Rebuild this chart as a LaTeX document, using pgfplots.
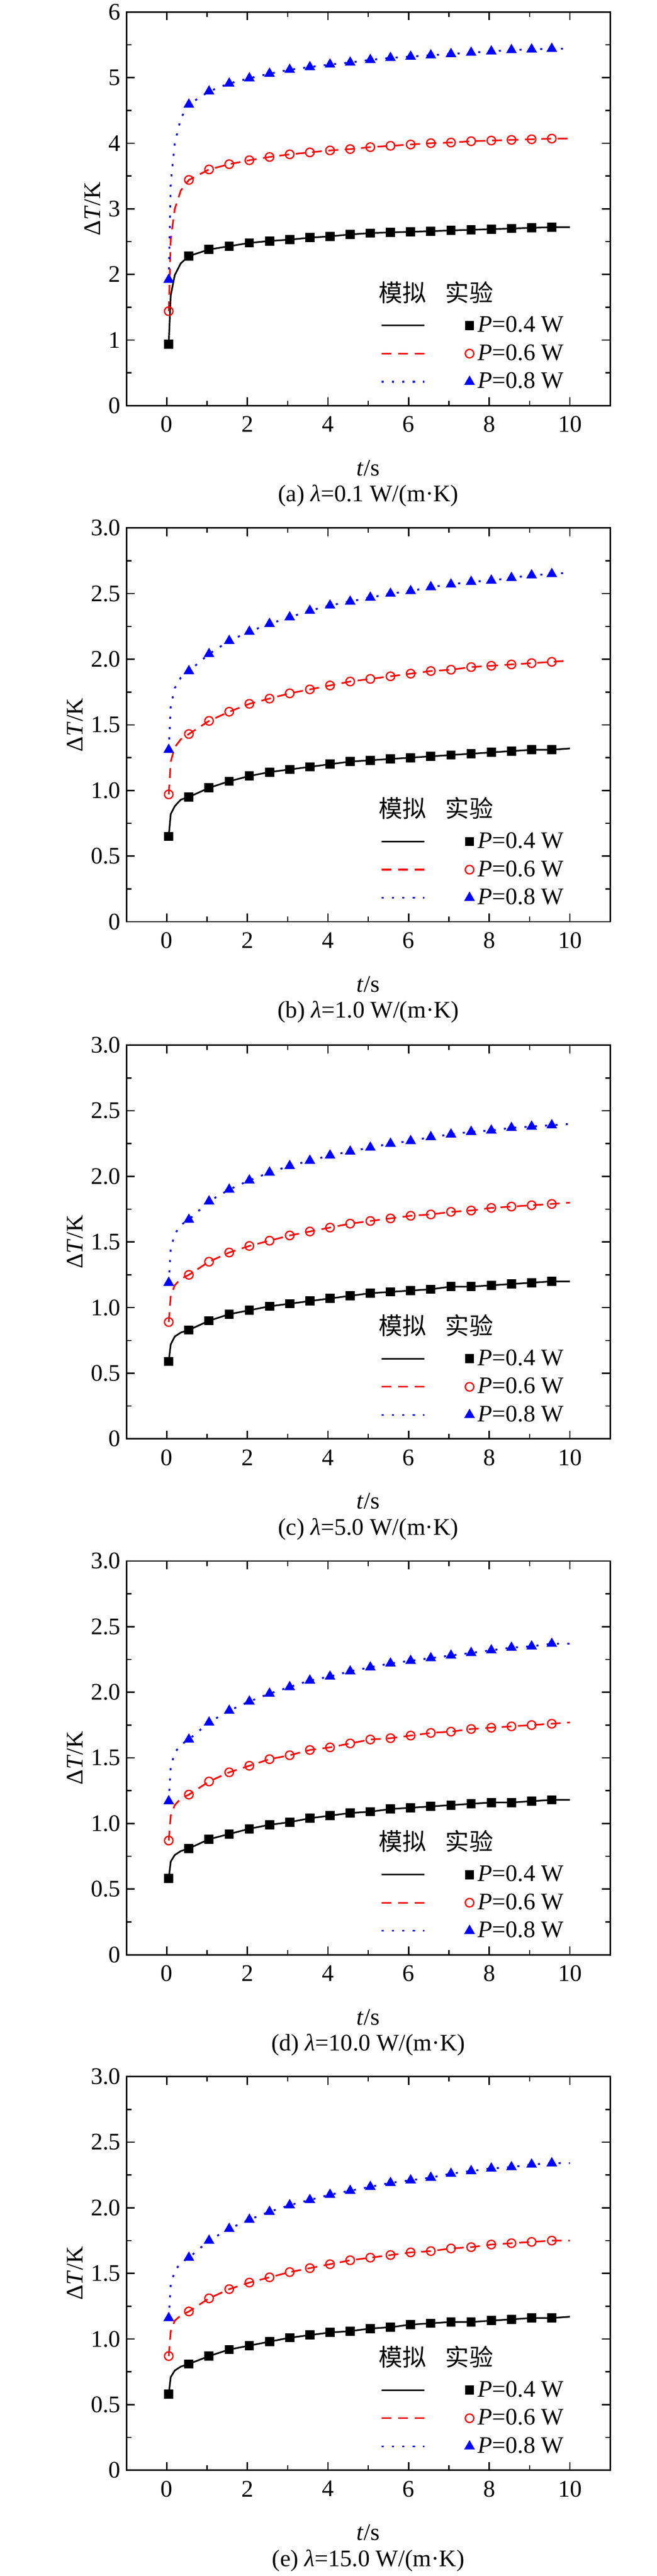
\documentclass[border=0pt]{standalone}
\usepackage{pgfplots}
\pgfplotsset{compat=1.18}
\usepackage{pgfplotstable}
\usepackage{fontspec}
\setmainfont{Liberation Serif}
\newfontfamily\cjk{Noto Sans CJK SC}
\newcommand\fs{\fontsize{14.5}{17}\selectfont}
% columns: x  b (0.4W)  r (0.6W)  u (0.8W)
\pgfplotstableread{
x b r u
0.05 0.94 1.44 1.92
0.1 1.68 2.54 3.39
0.2 1.99 3.00 4.00
0.35 2.17 3.28 4.38
0.55 2.28 3.44 4.59
1.05 2.38 3.60 4.79
1.55 2.43 3.68 4.91
2.05 2.48 3.74 4.99
2.55 2.51 3.79 5.06
3.05 2.53 3.83 5.12
3.55 2.56 3.86 5.16
4.05 2.58 3.89 5.20
4.55 2.61 3.91 5.23
5.05 2.63 3.94 5.27
5.55 2.64 3.96 5.30
6.05 2.65 3.98 5.32
6.55 2.66 4.00 5.34
7.05 2.67 4.01 5.36
7.55 2.68 4.03 5.38
8.05 2.69 4.04 5.40
8.55 2.70 4.05 5.42
9.05 2.71 4.06 5.43
9.55 2.72 4.07 5.44
10 2.72 4.07 5.44
}\tA
\pgfplotstableread{
x b r u
0.05 0.65 0.97 1.31
0.1 0.82 1.22 1.64
0.2 0.88 1.33 1.78
0.35 0.93 1.39 1.86
0.55 0.95 1.43 1.91
1.05 1.02 1.53 2.04
1.55 1.07 1.60 2.14
2.05 1.11 1.66 2.21
2.55 1.14 1.70 2.27
3.05 1.16 1.74 2.32
3.55 1.18 1.77 2.37
4.05 1.20 1.80 2.41
4.55 1.22 1.83 2.44
5.05 1.23 1.85 2.47
5.55 1.24 1.87 2.50
6.05 1.25 1.89 2.52
6.55 1.26 1.91 2.55
7.05 1.27 1.92 2.57
7.55 1.28 1.94 2.59
8.05 1.29 1.95 2.60
8.55 1.30 1.96 2.62
9.05 1.31 1.97 2.64
9.55 1.31 1.98 2.65
10 1.32 1.99 2.66
}\tB
\pgfplotstableread{
x b r u
0.05 0.59 0.89 1.19
0.1 0.72 1.09 1.45
0.2 0.78 1.17 1.56
0.35 0.81 1.22 1.63
0.55 0.83 1.25 1.67
1.05 0.90 1.35 1.81
1.55 0.95 1.42 1.90
2.05 0.98 1.47 1.97
2.55 1.01 1.51 2.03
3.05 1.03 1.55 2.08
3.55 1.05 1.58 2.12
4.05 1.07 1.61 2.16
4.55 1.09 1.64 2.19
5.05 1.11 1.66 2.22
5.55 1.12 1.68 2.25
6.05 1.13 1.70 2.27
6.55 1.14 1.71 2.30
7.05 1.16 1.73 2.32
7.55 1.16 1.74 2.34
8.05 1.17 1.76 2.35
8.55 1.18 1.77 2.37
9.05 1.19 1.78 2.38
9.55 1.20 1.79 2.39
10 1.20 1.80 2.40
}\tC
\pgfplotstableread{
x b r u
0.05 0.58 0.87 1.17
0.1 0.71 1.06 1.43
0.2 0.76 1.14 1.54
0.35 0.79 1.19 1.60
0.55 0.81 1.22 1.64
1.05 0.88 1.32 1.77
1.55 0.92 1.39 1.86
2.05 0.96 1.44 1.93
2.55 0.99 1.49 1.99
3.05 1.01 1.52 2.04
3.55 1.04 1.56 2.09
4.05 1.06 1.58 2.12
4.55 1.08 1.61 2.16
5.05 1.09 1.64 2.19
5.55 1.11 1.65 2.22
6.05 1.12 1.67 2.24
6.55 1.13 1.69 2.26
7.05 1.14 1.70 2.28
7.55 1.15 1.72 2.30
8.05 1.16 1.73 2.32
8.55 1.16 1.74 2.34
9.05 1.17 1.75 2.35
9.55 1.18 1.76 2.37
10 1.18 1.77 2.37
}\tD
\pgfplotstableread{
x b r u
0.05 0.58 0.87 1.16
0.1 0.71 1.06 1.41
0.2 0.76 1.14 1.52
0.35 0.79 1.18 1.58
0.55 0.81 1.21 1.62
1.05 0.87 1.31 1.75
1.55 0.92 1.38 1.84
2.05 0.95 1.43 1.91
2.55 0.98 1.47 1.97
3.05 1.01 1.51 2.02
3.55 1.03 1.54 2.06
4.05 1.05 1.57 2.10
4.55 1.06 1.60 2.13
5.05 1.08 1.62 2.16
5.55 1.09 1.64 2.19
6.05 1.11 1.66 2.21
6.55 1.12 1.67 2.23
7.05 1.13 1.69 2.26
7.55 1.13 1.70 2.28
8.05 1.14 1.72 2.30
8.55 1.15 1.73 2.31
9.05 1.16 1.74 2.33
9.55 1.16 1.75 2.34
10 1.17 1.75 2.34
}\tE
\pgfplotsset{
  pan/.style={
    width=294.8pt, height=240.1pt, scale only axis,
    anchor=north west, clip=false,
    xmin=-1, xmax=11, xtick={0,2,...,10}, minor x tick num=1,
    minor y tick num=1,
    tick align=inside, major tick length=5pt, minor tick length=3pt,
    axis line style={line width=0.9pt}, every tick/.style={black, line width=0.8pt},
    /pgf/number format/assume math mode=true,
    tick label style={font=\fs},
    xticklabel style={yshift=-3pt},
    label style={font=\fs},
    xlabel={\textit{t}/s}, ylabel={Δ\textit{T}/K},
    xlabel style={yshift=-10pt},
    ylabel style={yshift=-2pt},
    legend columns=2,
    legend cell align=left,
    legend style={at={(0.515,0.02)}, anchor=south west, draw=none, fill=none,
      font=\fs, row sep=2pt, /tikz/every even column/.append style={column sep=20pt}},
  },
  linlegend/.style={legend image code/.code={\draw[##1] (0pt,0pt) -- (26pt,0pt);}},
  sb/.style={black, line width=1pt},
  sr/.style={red, line width=1pt, dash pattern=on 6pt off 4pt},
  su/.style={blue, line width=1.1pt, dash pattern=on 1.3pt off 5pt},
  mk/.style={only marks, skip coords between index={1}{4}, skip coords between index={23}{24}},
}
\newcommand\curves[1]{%
  \addplot[sb, linlegend] table[x=x,y=b] {#1}; \addlegendentry{}
  \addplot[mk, mark=square*, mark size=2.6pt, black] table[x=x,y=b] {#1}; \addlegendentry{\textit{P}=0.4 W}
  \addplot[sr, linlegend] table[x=x,y=r] {#1}; \addlegendentry{}
  \addplot[mk, mark=o, mark size=2.6pt, red, thick] table[x=x,y=r] {#1}; \addlegendentry{\textit{P}=0.6 W}
  \addplot[su, linlegend] table[x=x,y=u] {#1}; \addlegendentry{}
  \addplot[mk, mark=triangle*, mark size=3.4pt, blue] table[x=x,y=u] {#1}; \addlegendentry{\textit{P}=0.8 W}
  \node[anchor=west, font={\fs\cjk}] at (rel axis cs:0.51,0.288) {模拟\hspace{0.8em}实验};
}
\newcommand\pcap[1]{\node[font=\fs] at ([yshift=-55pt]rel axis cs:0.5,0) {#1};}
\begin{document}
\begin{tikzpicture}
\useasboundingbox (0,0) rectangle (400pt,-1571pt);
\begin{axis}[pan, at={(77pt,-7.3pt)}, ymin=0, ymax=6, ytick={0,...,6}]
\curves{\tA}
\pcap{(a) \textit{λ}=0.1 W/(m·K)}
\end{axis}
\begin{axis}[pan, at={(77pt,-322pt)}, ymin=0, ymax=3, ytick={0,0.5,...,3}, yticklabels={0,0.5,1.0,1.5,2.0,2.5,3.0}]
\curves{\tB}
\pcap{(b) \textit{λ}=1.0 W/(m·K)}
\end{axis}
\begin{axis}[pan, at={(77pt,-637.4pt)}, ymin=0, ymax=3, ytick={0,0.5,...,3}, yticklabels={0,0.5,1.0,1.5,2.0,2.5,3.0}]
\curves{\tC}
\pcap{(c) \textit{λ}=5.0 W/(m·K)}
\end{axis}
\begin{axis}[pan, at={(77pt,-952pt)}, ymin=0, ymax=3, ytick={0,0.5,...,3}, yticklabels={0,0.5,1.0,1.5,2.0,2.5,3.0}]
\curves{\tD}
\pcap{(d) \textit{λ}=10.0 W/(m·K)}
\end{axis}
\begin{axis}[pan, at={(77pt,-1266.4pt)}, ymin=0, ymax=3, ytick={0,0.5,...,3}, yticklabels={0,0.5,1.0,1.5,2.0,2.5,3.0}]
\curves{\tE}
\pcap{(e) \textit{λ}=15.0 W/(m·K)}
\end{axis}
\end{tikzpicture}
\end{document}
